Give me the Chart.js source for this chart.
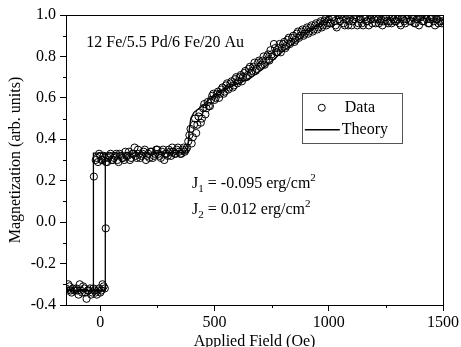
<!DOCTYPE html>
<html>
<head>
<meta charset="utf-8">
<script src="https://cdn.jsdelivr.net/npm/chart.js@4.4.0/dist/chart.umd.min.js"></script>
<style>
  body { margin: 0; background: #fff; }
</style>
</head>
<body>
<canvas id="magChart" width="461" height="347"></canvas>
<script>
// measured points (field in Oe, magnetization in arb. units)
var dataField = [
  -150,-140,-130,-120,-110,-100,-90,-80,-70,-60,-50,-40,-30,-20,-10,0,10,20,
  -28,24,
  -20,-10,0,10,20,30,40,50,60,70,80,90,100,110,120,130,140,150,160,170,
  180,190,200,210,220,230,240,250,260,270,280,290,300,310,320,330,340,350,360,370,
  380,390,400,410,420,430,440,450,460,470,480,490,500,510,520,530,540,550,560,570,
  580,590,600,610,620,630,640,650,660,670,680,690,700,710,720,730,740,750,760,770,
  780,790,800,810,820,830,840,850,860,870,880,890,900,910,920,930,940,950,960,970,
  980,990,1000,1010,1020,1030,1040,1050,1060,1070,1080,1090,1100,1110,1120,1130,1140,1150,1160,1170,
  1180,1190,1200,1210,1220,1230,1240,1250,1260,1270,1280,1290,1300,1310,1320,1330,1340,1350,1360,1370,
  1380,1390,1400,1410,1420,1430,1440,1450,1460,1470,1480,1490,1500,
  // second sweep
  -145,-135,-125,-115,-105,-95,-85,-75,-65,-55,-45,-35,-25,-15,-5,5,15,
  -15,-5,5,15,25,35,45,55,65,75,85,95,105,115,125,135,145,155,165,175,
  185,195,205,215,225,235,245,255,265,275,285,295,305,315,325,335,345,355,365,375,
  385,395,405,415,425,435,445,455,465,475,485,495,505,515,525,535,545,555,565,575,
  585,595,605,615,625,635,645,655,665,675,685,695,705,715,725,735,745,755,765,775,
  785,795,805,815,825,835,845,855,865,875,885,895,905,915,925,935,945,955,965,975,
  985,995,
  1005,1015,1025,1035,1045,1055,1065,1075,1085,1095,1105,1115,1125,1135,1145,1155,1165,1175,1185,1195,
  1205,1215,1225,1235,1245,1255,1265,1275,1285,1295,1305,1315,1325,1335,1345,1355,1365,1375,1385,1395,
  1405,1415,1425,1435,1445,1455,1465,1475,1485,1495
];
var dataMag = [
  -0.32,-0.30,-0.33,-0.32,-0.33,-0.33,-0.30,-0.34,-0.32,-0.37,-0.33,-0.35,-0.32,-0.34,-0.33,-0.34,-0.30,-0.32,
  0.22,-0.03,
  0.30,0.29,0.32,0.30,0.31,0.29,0.32,0.30,0.31,0.33,0.29,0.32,0.31,0.34,0.32,0.30,0.33,0.36,0.31,0.33,
  0.32,0.34,0.30,0.33,0.34,0.31,0.33,0.35,0.32,0.34,0.30,0.33,0.35,0.32,0.34,0.33,0.36,0.33,0.35,0.34,
  0.36,0.42,0.38,0.47,0.43,0.51,0.48,0.55,0.52,0.58,0.56,0.61,0.59,0.62,0.60,0.64,0.62,0.66,0.64,0.67,
  0.65,0.69,0.67,0.70,0.68,0.72,0.70,0.74,0.72,0.75,0.73,0.77,0.75,0.78,0.76,0.80,0.78,0.81,0.86,0.82,
  0.84,0.82,0.86,0.84,0.88,0.86,0.89,0.87,0.91,0.89,0.92,0.90,0.93,0.91,0.94,0.92,0.95,0.93,0.96,0.94,
  0.97,0.95,0.98,0.96,0.99,0.95,1.00,0.97,0.99,0.95,1.00,0.97,0.95,0.98,0.99,0.96,0.98,0.95,0.99,0.97,
  1.00,0.96,0.98,0.99,0.96,0.98,0.97,0.99,0.96,0.97,0.99,0.97,0.98,0.96,0.99,0.97,0.98,1.00,0.97,0.99,
  0.96,0.98,0.99,0.97,1.00,0.98,0.96,0.99,0.97,0.98,0.96,0.99,0.97,
  // second sweep
  -0.33,-0.31,-0.34,-0.33,-0.32,-0.35,-0.33,-0.31,-0.34,-0.33,-0.32,-0.34,-0.33,-0.35,-0.32,-0.33,-0.31,
  0.31,0.33,0.30,0.32,0.29,0.31,0.33,0.30,0.32,0.30,0.33,0.31,0.30,0.32,0.34,0.31,0.33,0.32,0.35,0.31,
  0.33,0.35,0.32,0.31,0.34,0.32,0.35,0.33,0.31,0.35,0.33,0.32,0.34,0.36,0.33,0.35,0.34,0.33,0.36,0.35,
  0.39,0.45,0.41,0.50,0.47,0.53,0.50,0.57,0.55,0.56,0.59,0.62,0.60,0.63,0.62,0.65,0.63,0.67,0.65,0.68,
  0.66,0.70,0.68,0.71,0.70,0.73,0.71,0.75,0.73,0.77,0.74,0.78,0.76,0.80,0.78,0.81,0.83,0.80,0.84,0.82,
  0.86,0.84,0.87,0.85,0.89,0.87,0.90,0.88,0.92,0.90,0.93,0.91,0.94,0.92,0.95,0.93,0.96,0.94,0.97,0.95,
  0.98,0.96,
  0.96,0.99,0.97,0.94,0.98,1.00,0.96,0.98,0.95,0.99,0.97,1.00,0.95,0.98,0.96,0.99,0.97,0.95,0.98,1.00,
  0.96,0.98,0.97,0.95,0.99,0.97,1.00,0.96,0.98,0.97,0.99,0.95,0.98,0.96,1.00,0.97,0.99,0.96,0.98,0.95,
  0.99,0.97,1.00,0.96,0.98,0.99,0.95,0.98,0.97,0.96
];

// calculated curve, null splits the two branches of the loop
var theoryField = [-150,22,22,381,386,390,396,410,445,489,540,593,651,700,795,942,1008,1500, 0, -30,-30,22];
var theoryMag   = [-0.33,-0.33,0.333,0.334,0.40,0.45,0.50,0.53,0.56,0.605,0.64,0.665,0.69,0.73,0.82,0.945,1.0,1.0, null, -0.33,0.333,0.333];

var xMajorTicks = [0,500,1000,1500];
var xMinorTicks = [250,750,1250];
var yMajorTicks = [-0.4,-0.2,0.0,0.2,0.4,0.6,0.8,1.0];
var yMinorTicks = [-0.3,-0.1,0.1,0.3,0.5,0.7,0.9];

var serif = '"Liberation Serif", "Times New Roman", serif';

function drawRich(ctx, parts, x, y) {
  parts.forEach(function(p) {
    var size = p.sub || p.sup ? 11 : 16;
    ctx.font = size + 'px ' + serif;
    var dy = p.sub ? 5 : (p.sup ? -6 : 0);
    ctx.fillText(p.t, x, y + dy);
    x += ctx.measureText(p.t).width;
  });
}

//frame, minor ticks, legend and text labels
var paperBits = {
  id: 'paperBits',
  afterDraw: function(chart) {
    var ctx = chart.ctx, a = chart.chartArea;
    var sx = chart.scales.x, sy = chart.scales.y;
    ctx.save();
    ctx.strokeStyle = '#000';
    ctx.lineWidth = 1;
    ctx.strokeRect(a.left + 0.5, a.top + 0.5, a.right - a.left, a.bottom - a.top);
    ctx.beginPath();
    xMinorTicks.forEach(function(v) {
      var px = Math.round(sx.getPixelForValue(v)) + 0.5;
      ctx.moveTo(px, a.bottom); ctx.lineTo(px, a.bottom + 3);
    });
    yMinorTicks.forEach(function(v) {
      var py = Math.round(sy.getPixelForValue(v)) + 0.5;
      ctx.moveTo(a.left, py); ctx.lineTo(a.left - 3, py);
    });
    ctx.stroke();

    ctx.fillStyle = '#000';
    ctx.textBaseline = 'middle';
    ctx.textAlign = 'left';
    ctx.font = '16px ' + serif;
    ctx.fillText('12 Fe/5.5 Pd/6 Fe/20 Au', sx.getPixelForValue(-61), sy.getPixelForValue(0.868));
    drawRich(ctx, [{t:'J'},{t:'1',sub:true},{t:' = -0.095 erg/cm'},{t:'2',sup:true}],
      sx.getPixelForValue(402), sy.getPixelForValue(0.185));
    drawRich(ctx, [{t:'J'},{t:'2',sub:true},{t:' = 0.012 erg/cm'},{t:'2',sup:true}],
      sx.getPixelForValue(402), sy.getPixelForValue(0.058));

    // legend box
    var bl = sx.getPixelForValue(882), br = sx.getPixelForValue(1319);
    var bt = sy.getPixelForValue(0.625), bb = sy.getPixelForValue(0.383);
    ctx.strokeStyle = '#555';
    ctx.strokeRect(Math.round(bl) + 0.5, Math.round(bt) + 0.5, Math.round(br - bl), Math.round(bb - bt));
    var row1 = bt + (bb - bt) * 0.3, row2 = bt + (bb - bt) * 0.74;
    ctx.strokeStyle = '#000';
    ctx.beginPath();
    ctx.arc(bl + 20, row1, 3.5, 0, Math.PI * 2);
    ctx.stroke();
    ctx.lineWidth = 1.3;
    ctx.beginPath();
    ctx.moveTo(bl + 3, row2); ctx.lineTo(bl + 38, row2);
    ctx.stroke();
    ctx.font = '16px ' + serif;
    ctx.fillText('Data', bl + 43, row1);
    ctx.fillText('Theory', bl + 40, row2);
    ctx.restore();
  }
};

new Chart('magChart', {
  type: 'scatter',
  data: {
    datasets: [
      {
        label: 'Data',
        data: dataField.map(function(x, i) { return {x: x, y: dataMag[i]}; }),
        pointStyle: 'circle',
        pointRadius: 3.6,
        pointBorderWidth: 1,
        pointBorderColor: '#000',
        pointBackgroundColor: 'rgba(0,0,0,0)',
        showLine: false
      },
      {
        label: 'Theory',
        data: theoryField.map(function(x, i) { return {x: x, y: theoryMag[i]}; }),
        showLine: true,
        spanGaps: false,
        borderColor: '#000',
        borderWidth: 1.3,
        pointRadius: 0,
        fill: false
      }
    ]
  },
  options: {
    responsive: false,
    animation: false,
    layout: { padding: { left: 0, right: 16, top: 15, bottom: 0 } },
    plugins: { legend: { display: false }, tooltip: { enabled: false } },
    scales: {
      x: {
        type: 'linear',
        min: -150, max: 1500,
        afterBuildTicks: function(axis) { axis.ticks = xMajorTicks.map(function(v) { return {value: v}; }); },
        afterFit: function(axis) { axis.height = 42; },
        grid: { drawOnChartArea: false, tickLength: 6, color: '#000' },
        border: { display: false },
        ticks: { color: '#000', font: { family: serif, size: 16 }, padding: 2, maxRotation: 0,
          callback: function(v) { return String(v); } },
        title: { display: true, text: 'Applied Field (Oe)', color: '#000', font: { family: serif, size: 16 }, padding: { top: 0, bottom: -4 } }
      },
      y: {
        type: 'linear',
        min: -0.4, max: 1.0,
        afterBuildTicks: function(axis) { axis.ticks = yMajorTicks.map(function(v) { return {value: v}; }); },
        afterFit: function(axis) { axis.width = 66; },
        grid: { drawOnChartArea: false, tickLength: 6, color: '#000' },
        border: { display: false },
        ticks: { color: '#000', font: { family: serif, size: 16 }, padding: 4,
          callback: function(v) { return v.toFixed(1); } },
        title: { display: true, text: 'Magnetization (arb. units)', color: '#000', font: { family: serif, size: 16 }, padding: { top: 6, bottom: 0 } }
      }
    }
  },
  plugins: [paperBits]
});
</script>
</body>
</html>
